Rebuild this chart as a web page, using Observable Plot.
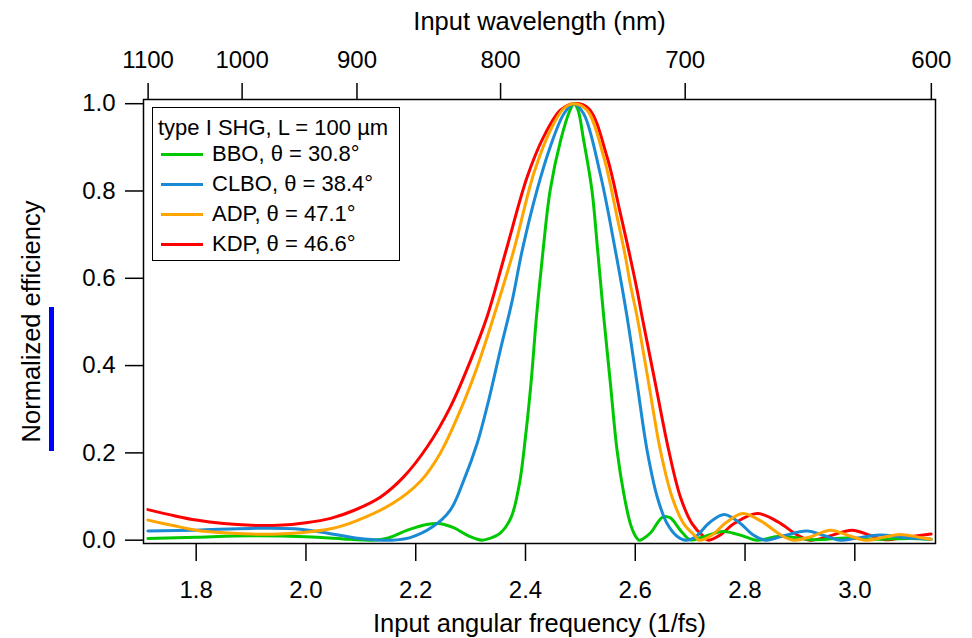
<!DOCTYPE html>
<html>
<head>
<meta charset="utf-8">
<script src="https://cdn.jsdelivr.net/npm/d3@7"></script>
<script src="https://cdn.jsdelivr.net/npm/@observablehq/plot@0.6"></script>
<style>
  html, body { margin: 0; padding: 0; background: #fff; }
  #wrap { position: relative; width: 972px; height: 638px; font-family: "Liberation Sans", Arial, Helvetica, sans-serif; }
  #legend { position: absolute; left: 152px; top: 107px; width: 246px; height: 152px; border: 1.5px solid #000; background: #fff; }
  .lrow { position: absolute; left: 0; height: 30px; line-height: 30px; font-size: 22px; color: #000; white-space: nowrap; }
  .lsw { position: absolute; left: 8px; width: 42px; height: 3px; }
  .ltx { position: absolute; left: 59px; top: 0; }
  #bar { position: absolute; left: 49px; top: 307px; width: 5px; height: 144px; background: #0000ff; }
</style>
</head>
<body>
<div id="wrap"></div>
<script>
// ---- data: [angular frequency (1/fs), normalized efficiency]
const crystals = ["BBO", "CLBO", "ADP", "KDP"];
const thetas = ["30.8", "38.4", "47.1", "46.6"];
const colors = ["#00c800", "#1a8ad4", "#ffa500", "#ff0000"];
const legendTitle = "type I SHG, L = 100 µm";

const BBO = [
  [1.712,0.004],[1.80,0.007],[1.90,0.010],[2.00,0.008],[2.08,0.002],[2.12,0.000],[2.15,0.005],
  [2.185,0.023],[2.22,0.036],[2.242,0.038],[2.27,0.028],[2.29,0.014],[2.31,0.003],[2.321,0.000],
  [2.335,0.004],[2.354,0.016],[2.374,0.053],[2.389,0.130],[2.400,0.237],[2.410,0.359],[2.420,0.512],
  [2.432,0.664],[2.445,0.802],[2.464,0.916],[2.481,0.985],[2.488,1.000],[2.495,0.988],[2.506,0.916],
  [2.521,0.802],[2.5315,0.664],[2.5425,0.512],[2.5547,0.359],[2.5668,0.206],[2.579,0.107],
  [2.591,0.038],[2.600,0.010],[2.607,0.000],[2.615,0.004],[2.628,0.017],[2.650,0.053],[2.664,0.051],
  [2.682,0.023],[2.700,0.001],[2.72,0.006],[2.76,0.020],[2.80,0.008],[2.822,0.000],[2.864,0.009],
  [2.925,0.001],[2.985,0.005],[3.04,0.002],[3.10,0.004],[3.139,0.002]
];
const CLBO = [
  [1.712,0.021],[1.80,0.023],[1.90,0.027],[1.98,0.026],[2.04,0.016],[2.09,0.005],[2.125,0.001],
  [2.155,0.000],[2.19,0.006],[2.23,0.030],[2.263,0.069],[2.2875,0.137],[2.312,0.222],[2.333,0.321],
  [2.354,0.435],[2.376,0.550],[2.394,0.664],[2.421,0.802],[2.445,0.901],[2.470,0.977],[2.488,1.000],
  [2.506,0.977],[2.536,0.840],[2.5637,0.664],[2.585,0.512],[2.6033,0.359],[2.6215,0.206],
  [2.640,0.099],[2.658,0.038],[2.676,0.009],[2.692,0.000],[2.71,0.008],[2.735,0.040],[2.762,0.059],
  [2.79,0.040],[2.815,0.012],[2.838,0.000],[2.87,0.010],[2.913,0.021],[2.945,0.010],[2.974,0.000],
  [3.00,0.004],[3.045,0.012],[3.09,0.006],[3.139,0.002]
];
const ADP = [
  [1.712,0.046],[1.76,0.033],[1.80,0.023],[1.85,0.017],[1.90,0.014],[1.95,0.014],[1.99,0.017],
  [2.045,0.026],[2.093,0.045],[2.159,0.085],[2.2086,0.135],[2.245,0.200],[2.2814,0.298],[2.312,0.397],
  [2.342,0.512],[2.3786,0.664],[2.415,0.840],[2.4454,0.939],[2.4696,0.989],[2.488,1.000],
  [2.5122,0.985],[2.5425,0.878],[2.5668,0.741],[2.582,0.650],[2.5911,0.585],[2.6033,0.512],
  [2.6245,0.359],[2.6457,0.206],[2.667,0.099],[2.6882,0.038],[2.7095,0.009],[2.716,0.000],
  [2.74,0.012],[2.765,0.040],[2.796,0.061],[2.83,0.043],[2.865,0.012],[2.888,0.000],[2.92,0.008],
  [2.955,0.023],[2.99,0.010],[3.02,0.000],[3.05,0.006],[3.083,0.013],[3.115,0.007],[3.139,0.002]
];
const KDP = [
  [1.712,0.070],[1.76,0.056],[1.80,0.046],[1.85,0.038],[1.90,0.034],[1.95,0.034],[2.00,0.040],
  [2.045,0.050],[2.087,0.068],[2.136,0.099],[2.178,0.145],[2.221,0.214],[2.263,0.305],[2.30,0.412],
  [2.33,0.512],[2.366,0.670],[2.403,0.832],[2.433,0.924],[2.4636,0.985],[2.488,1.000],[2.515,0.989],
  [2.5486,0.878],[2.5729,0.748],[2.588,0.664],[2.6033,0.573],[2.6124,0.512],[2.6366,0.359],
  [2.6609,0.206],[2.6822,0.099],[2.7034,0.038],[2.7246,0.008],[2.7337,0.000],[2.755,0.012],
  [2.78,0.038],[2.822,0.061],[2.86,0.042],[2.895,0.012],[2.918,0.000],[2.95,0.008],[2.995,0.023],
  [3.03,0.010],[3.055,0.001],[3.09,0.006],[3.139,0.014]
];
const seriesValues = [BBO, CLBO, ADP, KDP];

const xTicks = [1.8, 2.0, 2.2, 2.4, 2.6, 2.8, 3.0];
const yTicks = [0.0, 0.2, 0.4, 0.6, 0.8, 1.0];
const wavelengthTicks = [1100, 1000, 900, 800, 700, 600];

const xLabel = "Input angular frequency (1/fs)";
const topLabel = "Input wavelength (nm)";
const yLabel = "Normalized efficiency";

// omega (1/fs) <-> wavelength (nm): omega = 2*pi*c/lambda
const C_NM_PER_FS = 299.792458;
const toOmega = lam => 2 * Math.PI * C_NM_PER_FS / lam;
const toLambda = w => 2 * Math.PI * C_NM_PER_FS / w;

const rows = (arr, name) => arr.map(([w, v]) => ({w, v, crystal: name}));
const drawOrder = ["KDP", "BBO", "CLBO", "ADP"];
const lineMarks = drawOrder.map(name => {
  const i = crystals.indexOf(name);
  return Plot.line(rows(seriesValues[i], name), {
    x: "w", y: "v", stroke: colors[i], strokeWidth: 3, curve: "catmull-rom", strokeLinejoin: "round"
  });
});

const fontFamily = '"Liberation Sans", Arial, Helvetica, sans-serif';
const chart = Plot.plot({
  width: 972,
  height: 638,
  marginLeft: 143,
  marginRight: 37,
  marginTop: 99,
  marginBottom: 95,
  x: {domain: [1.704, 3.147]},
  y: {domain: [-0.0076, 1.0096]},
  style: {fontFamily, fontSize: "24px", color: "#000", background: "#fff", overflow: "visible"},
  marks: [
    ...lineMarks,
    Plot.frame({stroke: "#000", strokeWidth: 1.5}),
    Plot.axisX({anchor: "bottom", ticks: xTicks, tickFormat: d => d.toFixed(1), tickSize: 18, tickPadding: 19,
      label: null, stroke: "#000", strokeWidth: 1.5, fontSize: 24}),
    Plot.axisX({anchor: "top", ticks: wavelengthTicks.map(toOmega), tickFormat: w => String(Math.round(toLambda(w))),
      tickSize: 17, tickPadding: 15, label: null, stroke: "#000", strokeWidth: 1.5, fontSize: 24}),
    Plot.axisY({anchor: "left", ticks: yTicks, tickFormat: d => d.toFixed(1), tickSize: 18, tickPadding: 10,
      label: null, stroke: "#000", strokeWidth: 1.5, fontSize: 24}),
    Plot.text([xLabel], {text: d => d, frameAnchor: "bottom", dy: 80, fontSize: 25.5, lineAnchor: "middle", textAnchor: "middle"}),
    Plot.text([topLabel], {text: d => d, frameAnchor: "top", dy: -78, fontSize: 25.5, lineAnchor: "middle", textAnchor: "middle"}),
    Plot.text([yLabel], {text: d => d, frameAnchor: "left", dx: -112, rotate: -90, fontSize: 25.5, lineAnchor: "middle", textAnchor: "middle"})
  ]
});

const wrap = document.getElementById("wrap");
wrap.appendChild(chart);

const bar = document.createElement("div");
bar.id = "bar";
wrap.appendChild(bar);

// legend inside the frame
const legend = document.createElement("div");
legend.id = "legend";
const rowTops = [5, 31, 61, 91, 121];
const title = document.createElement("div");
title.className = "lrow";
title.style.top = rowTops[0] + "px";
title.style.left = "5px";
title.textContent = legendTitle;
legend.appendChild(title);
crystals.forEach((name, i) => {
  const r = document.createElement("div");
  r.className = "lrow";
  r.style.top = rowTops[i + 1] + "px";
  r.style.width = "240px";
  const sw = document.createElement("div");
  sw.className = "lsw";
  sw.style.top = "14px";
  sw.style.background = colors[i];
  const tx = document.createElement("div");
  tx.className = "ltx";
  tx.textContent = `${name}, θ = ${thetas[i]}°`;
  r.appendChild(sw);
  r.appendChild(tx);
  legend.appendChild(r);
});
wrap.appendChild(legend);
</script>
</body>
</html>
